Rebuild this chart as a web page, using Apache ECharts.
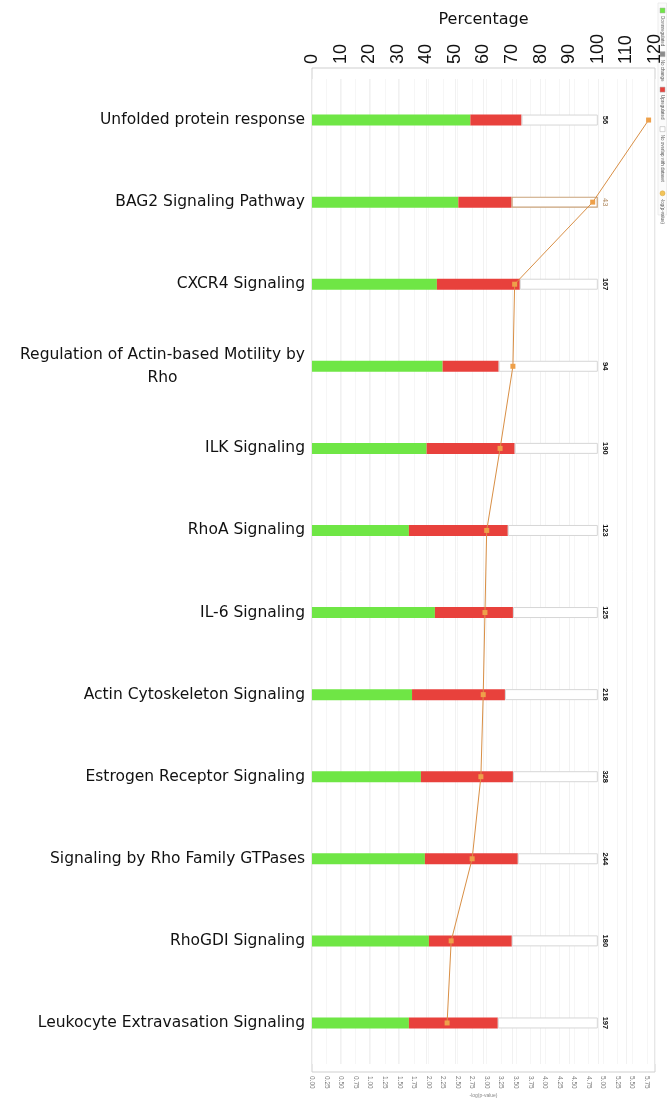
<!DOCTYPE html>
<html>
<head>
<meta charset="utf-8">
<script src="https://cdn.jsdelivr.net/npm/echarts@6/dist/echarts.min.js"></script>
<style>
  html, body { margin: 0; padding: 0; background: #ffffff; }
  #chart { width: 667px; height: 1100px; }
</style>
</head>
<body>
<div id="chart"></div>
<script>
// Canonical pathways, top to bottom
const categories = [
  'Unfolded protein response',
  'BAG2 Signaling Pathway',
  'CXCR4 Signaling',
  'Regulation of Actin-based Motility by Rho',
  'ILK Signaling',
  'RhoA Signaling',
  'IL-6 Signaling',
  'Actin Cytoskeleton Signaling',
  'Estrogen Receptor Signaling',
  'Signaling by Rho Family GTPases',
  'RhoGDI Signaling',
  'Leukocyte Extravasation Signaling'
];
// Share of pathway molecules in each group (%)
const downPct = [55.4, 51.2, 43.7, 45.7, 40.1, 33.9, 43.0, 35.0, 38.1, 39.5, 40.9, 33.9];
const upPct   = [17.9, 18.6, 29.0, 19.6, 30.8, 34.6, 27.3, 32.5, 32.2, 32.5, 29.0, 31.1];
// Total molecules per pathway
const totalCounts = [56, 43, 167, 94, 190, 123, 125, 218, 328, 244, 180, 197];
// -log(p-value) per pathway
const negLogP = [5.78, 4.82, 3.48, 3.45, 3.23, 3.00, 2.97, 2.94, 2.90, 2.75, 2.39, 2.32];
// Pathway currently selected (outlined)
const selectedPathway = 'BAG2 Signaling Pathway';
// Legend entries
const legendItems = [
  { name: 'Downregulated', color: '#6fe645', shape: 'rect' },
  { name: 'No change', color: '#8c8c8c', shape: 'rect' },
  { name: 'Upregulated', color: '#e8413c', shape: 'rect' },
  { name: 'No overlap with dataset', color: '#ffffff', shape: 'rect' },
  { name: '-log(p-value)', color: '#f2c45a', shape: 'circle' }
];

const GREEN = '#6fe645';
const RED = '#e8413c';
const LINE = '#d98f45';
const SELECT = '#c9a27a';

const noOverlapData = downPct.map((d, i) => {
  const v = +(100 - d - upPct[i]).toFixed(1);
  if (categories[i] === selectedPathway) {
    return { value: v, itemStyle: { borderColor: SELECT, borderWidth: 1.2 },
      label: { color: '#b08a60', fontWeight: 'normal' } };
  }
  return v;
});

function wrapLabel(text, maxChars) {
  const words = text.split(' ');
  const lines = [];
  let cur = '';
  words.forEach(w => {
    const next = cur ? cur + ' ' + w : w;
    if (next.length > maxChars && cur) { lines.push(cur); cur = w; }
    else cur = next;
  });
  if (cur) lines.push(cur);
  return lines;
}

// Legend: a vertical strip with text running top to bottom
const legendChildren = [];
let ly = 6;
legendItems.forEach(item => {
  if (item.shape === 'circle') {
    legendChildren.push({ type: 'circle', shape: { cx: ly + 2.5, cy: 3.5, r: 2.5 },
      style: { fill: item.color, stroke: '#d6a43a', lineWidth: 0.5 } });
  } else {
    legendChildren.push({ type: 'rect', shape: { x: ly, y: 1, width: 5, height: 5 },
      style: { fill: item.color, stroke: '#aaaaaa', lineWidth: 0.5 } });
  }
  legendChildren.push({ type: 'text', x: ly + 8, y: 3.5,
    style: { text: item.name, fontSize: 4.5, fontFamily: 'Liberation Sans', fill: '#555',
      verticalAlign: 'middle', align: 'left' } });
  ly += 8 + item.name.length * 2.05 + 9;
});

const chart = echarts.init(document.getElementById('chart'));
chart.setOption({
  animation: false,
  backgroundColor: '#ffffff',
  grid: { left: 312, right: 12, top: 79, bottom: 36, containLabel: false, outerBoundsMode: 'none' },
  xAxis: [
    {
      type: 'value', position: 'top', min: 0, max: 120, interval: 10, offset: 11,
      name: 'Percentage', nameLocation: 'middle', nameGap: 40, nameMoveOverlap: false,
      nameTextStyle: { fontSize: 16, color: '#111', fontFamily: 'DejaVu Sans' },
      axisLine: { show: false }, axisTick: { show: false },
      axisLabel: { rotate: -90, fontSize: 18, color: '#111', margin: 4, fontFamily: 'Liberation Sans' },
      splitLine: { show: true, lineStyle: { color: '#f1f1f1', width: 1 } }
    },
    {
      type: 'value', position: 'bottom', min: 0, max: 5.89, interval: 0.25, offset: 8,
      name: '-log(p-value)', nameLocation: 'middle', nameGap: 21, nameMoveOverlap: false,
      nameTextStyle: { fontSize: 5, color: '#888', fontFamily: 'Liberation Sans' },
      axisLine: { show: false }, axisTick: { show: false },
      axisLabel: { rotate: -90, fontSize: 6.5, color: '#777', margin: 4, showMaxLabel: false,
        fontFamily: 'Liberation Sans', formatter: v => v.toFixed(2) },
      splitLine: { show: true, lineStyle: { color: '#f6f6f6', width: 1 } }
    }
  ],
  yAxis: {
    type: 'category', inverse: true, data: categories,
    axisLine: { show: false }, axisTick: { show: false },
    axisLabel: {
      margin: 7, color: '#111',
      formatter: v => wrapLabel(v, 37).map(l => '{l|' + l + '}').join('\n'),
      rich: { l: { align: 'center', fontSize: 15.5, lineHeight: 23, color: '#111', fontFamily: 'DejaVu Sans' } }
    }
  },
  graphic: [
    { type: 'rect', shape: { x: 312, y: 68, width: 343, height: 1004 }, z: 0, silent: true,
      style: { fill: 'none', stroke: '#cfcfcf', lineWidth: 1 } },
    { type: 'rect', shape: { x: 658, y: 3, width: 8.5, height: 212 }, z: 0, silent: true,
      style: { fill: '#fbfbfb', stroke: '#e2e2e2', lineWidth: 0.6 } },
    { type: 'group', x: 666, y: 2, rotation: -Math.PI / 2, children: legendChildren }
  ],
  series: [
    { name: 'Downregulated', type: 'bar', stack: 'pct', xAxisIndex: 0, barWidth: 11,
      itemStyle: { color: GREEN }, data: downPct },
    { name: 'Upregulated', type: 'bar', stack: 'pct', xAxisIndex: 0, barWidth: 11,
      itemStyle: { color: RED }, data: upPct },
    { name: 'No overlap with dataset', type: 'bar', stack: 'pct', xAxisIndex: 0, barWidth: 11,
      itemStyle: { color: '#ffffff', borderColor: '#d6d6d6', borderWidth: 1 },
      label: { show: true, position: 'right', distance: 7, rotate: -90, align: 'center',
        verticalAlign: 'middle', fontSize: 7.5, fontWeight: 'bold', color: '#111',
        fontFamily: 'Liberation Sans', formatter: p => String(totalCounts[p.dataIndex]) },
      data: noOverlapData },
    { name: '-log(p-value)', type: 'line', xAxisIndex: 1, z: 5,
      symbol: 'rect', symbolSize: 5,
      itemStyle: { color: '#eea04a' }, lineStyle: { color: LINE, width: 1 },
      data: negLogP.map((v, i) => [v, categories[i]]) }
  ]
});
</script>
</body>
</html>
